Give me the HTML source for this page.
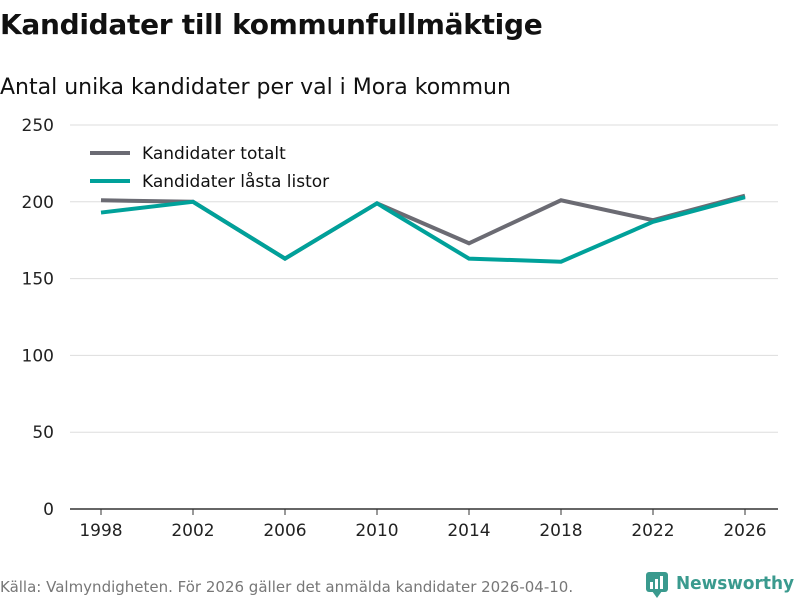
<!DOCTYPE html>
<html><head><meta charset="utf-8"><style>
body{margin:0;width:800px;height:600px;background:#fff;font-family:"DejaVu Sans","Liberation Sans",sans-serif;overflow:hidden}
</style></head><body>
<svg width="800" height="600" font-family="DejaVu Sans, Liberation Sans, sans-serif">
<text x="0" y="34" font-size="28" font-weight="bold" fill="#111" letter-spacing="-0.3">Kandidater till kommunfullmäktige</text>
<text x="0" y="94" font-size="22" fill="#111">Antal unika kandidater per val i Mora kommun</text>
<g id="grid"></g><g id="lines"></g>
<g>
<line x1="90" y1="153" x2="130" y2="153" stroke="#6b6b73" stroke-width="4"/>
<text x="142" y="159" font-size="17" fill="#111">Kandidater totalt</text>
<line x1="90" y1="181" x2="130" y2="181" stroke="#00a19a" stroke-width="4"/>
<text x="142" y="187" font-size="17" fill="#111">Kandidater låsta listor</text>
</g>
<text x="0" y="592" font-size="15" fill="#777">Källa: Valmyndigheten. För 2026 gäller det anmälda kandidater 2026-04-10.</text>
<g>
<rect x="646" y="572" width="22" height="20" rx="3" fill="#3a9a8e"/>
<polygon points="652,591 662,591 657,598" fill="#3a9a8e"/>
<rect x="650" y="582" width="3" height="7" fill="#fff"/><rect x="655" y="579" width="3" height="10" fill="#fff"/><rect x="660" y="576" width="3" height="13" fill="#fff"/>
<text x="676" y="589" font-size="18" font-weight="600" fill="#3a9a8e" textLength="118" lengthAdjust="spacingAndGlyphs">Newsworthy</text>
</g>
</svg>
<script>
const years=[1998,2002,2006,2010,2014,2018,2022,2026];
const totalt=[201,200,163,199,173,201,188,204];
const lasta=[193,200,163,199,163,161,187,203];
const yTicks=[0,50,100,150,200,250];
const NS="http://www.w3.org/2000/svg";
const x=v=>101+(v-1998)*(644/28);
const y=v=>509-v*(384/250);
const grid=document.getElementById('grid');
yTicks.forEach(t=>{
 const l=document.createElementNS(NS,'line');
 
 
 l.setAttribute('x1',70);l.setAttribute('x2',778);l.setAttribute('y1',y(t));l.setAttribute('y2',y(t));
 l.setAttribute('stroke',t===0?'#333':'#ddd');l.setAttribute('stroke-width',t===0?1.5:1);
 grid.appendChild(l);
 const tx=document.createElementNS(NS,'text');
 
 
 tx.setAttribute('x',54);tx.setAttribute('y',y(t)+6);tx.setAttribute('text-anchor','end');
 tx.setAttribute('font-size',17);tx.setAttribute('fill','#222');tx.textContent=t;
 grid.appendChild(tx);
});
years.forEach(v=>{
 const tk=document.createElementNS(NS,'line');
 
 
 tk.setAttribute('x1',x(v));tk.setAttribute('x2',x(v));tk.setAttribute('y1',509);tk.setAttribute('y2',515);
 tk.setAttribute('stroke','#333');grid.appendChild(tk);
 const tx=document.createElementNS(NS,'text');
 
 
 tx.setAttribute('x',x(v));tx.setAttribute('y',536);tx.setAttribute('text-anchor','middle');
 tx.setAttribute('font-size',17);tx.setAttribute('fill','#222');tx.textContent=v;
 grid.appendChild(tx);
});
const lines=document.getElementById('lines');
[[totalt,'#6b6b73','line-totalt'],[lasta,'#00a19a','line-lasta']].forEach(([d,c,n])=>{
 const p=document.createElementNS(NS,'polyline');
 
 
 p.setAttribute('points',d.map((v,i)=>x(years[i])+','+y(v)).join(' '));
 p.setAttribute('fill','none');p.setAttribute('stroke',c);p.setAttribute('stroke-width',4);
 lines.appendChild(p);
});
</script>
</body></html>
